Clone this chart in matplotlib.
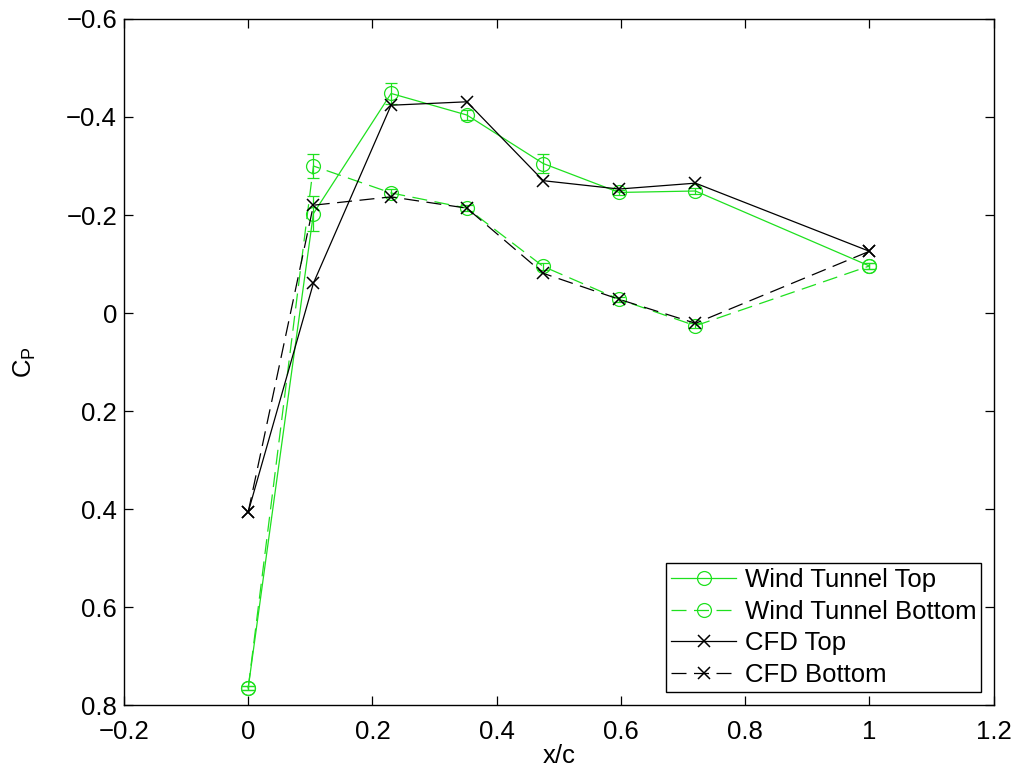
import numpy as np
import matplotlib
matplotlib.use('Agg')
import matplotlib.pyplot as plt

# chordwise positions
x = [0.0, 0.105, 0.23, 0.352, 0.475, 0.597, 0.72, 1.0]

# wind tunnel Cp with error
wt_top = [0.765, -0.203, -0.448, -0.404, -0.305, -0.246, -0.249, -0.096]
wt_top_err = [0.005, 0.035, 0.022, 0.01, 0.02, 0.006, 0.006, 0.006]
wt_bot = [0.765, -0.300, -0.245, -0.214, -0.095, -0.028, 0.026, -0.096]
wt_bot_err = [0.005, 0.025, 0.008, 0.006, 0.008, 0.005, 0.005, 0.006]

# CFD Cp
cfd_top = [0.406, -0.061, -0.424, -0.431, -0.270, -0.253, -0.265, -0.126]
cfd_bot = [0.406, -0.220, -0.237, -0.214, -0.081, -0.028, 0.021, -0.126]

xticks = [-0.2, 0, 0.2, 0.4, 0.6, 0.8, 1, 1.2]
yticks = [-0.6, -0.4, -0.2, 0, 0.2, 0.4, 0.6, 0.8]

plt.rcParams['font.family'] = ['Liberation Sans', 'DejaVu Sans']
plt.rcParams['font.size'] = 18.5
plt.rcParams['mathtext.fontset'] = 'custom'
plt.rcParams['mathtext.rm'] = 'Liberation Sans'

green = '#1ee01e'
lw = 0.9
dash = (12, 6)

fig = plt.figure(figsize=(10.16, 7.74), dpi=100)
ax = fig.add_axes([0.122, 0.089, 0.856, 0.8865])

# error bars (not in legend)
ax.errorbar(x, wt_top, yerr=wt_top_err, fmt='none', ecolor=green, elinewidth=lw, capsize=4, capthick=lw)
ax.errorbar(x, wt_bot, yerr=wt_bot_err, fmt='none', ecolor=green, elinewidth=lw, capsize=4, capthick=lw)

ax.plot(x, wt_top, '-o', color=green, lw=lw, ms=10, mfc='none', mew=lw, label='Wind Tunnel Top')
ax.plot(x, wt_bot, '--o', color=green, lw=lw, ms=10, mfc='none', mew=lw, dashes=dash, label='Wind Tunnel Bottom')
ax.plot(x, cfd_top, '-x', color='k', lw=lw, ms=8, mew=1.1, label='CFD Top')
ax.plot(x, cfd_bot, '--x', color='k', lw=lw, ms=8, mew=1.1, dashes=dash, label='CFD Bottom')

ax.set_xlim(-0.2, 1.2)
ax.set_ylim(0.8, -0.6)
ax.set_xticks(xticks)
ax.set_xticklabels(['\u22120.2', '0', '0.2', '0.4', '0.6', '0.8', '1', '1.2'])
ax.set_yticks(yticks)
ax.set_yticklabels(['\u22120.6', '\u22120.4', '\u22120.2', '0', '0.2', '0.4', '0.6', '0.8'])
ax.tick_params(direction='in', length=6.5, width=0.9, top=True, right=True)
ax.tick_params(axis='x', pad=11)
ax.tick_params(axis='y', pad=5)
for s in ax.spines.values():
    s.set_linewidth(1.0)

ax.set_xlabel('x/c', labelpad=0)
ax.set_ylabel(r'C$_\mathregular{P}$', labelpad=20)

leg = ax.legend(loc='lower right', bbox_to_anchor=(0.986, 0.019), fancybox=False, edgecolor='k',
                framealpha=1, handlelength=2.5, borderpad=0.2, labelspacing=0.3, handletextpad=0.35,
                borderaxespad=0)
leg.get_frame().set_linewidth(1.0)

plt.savefig('out.png', dpi=100)
